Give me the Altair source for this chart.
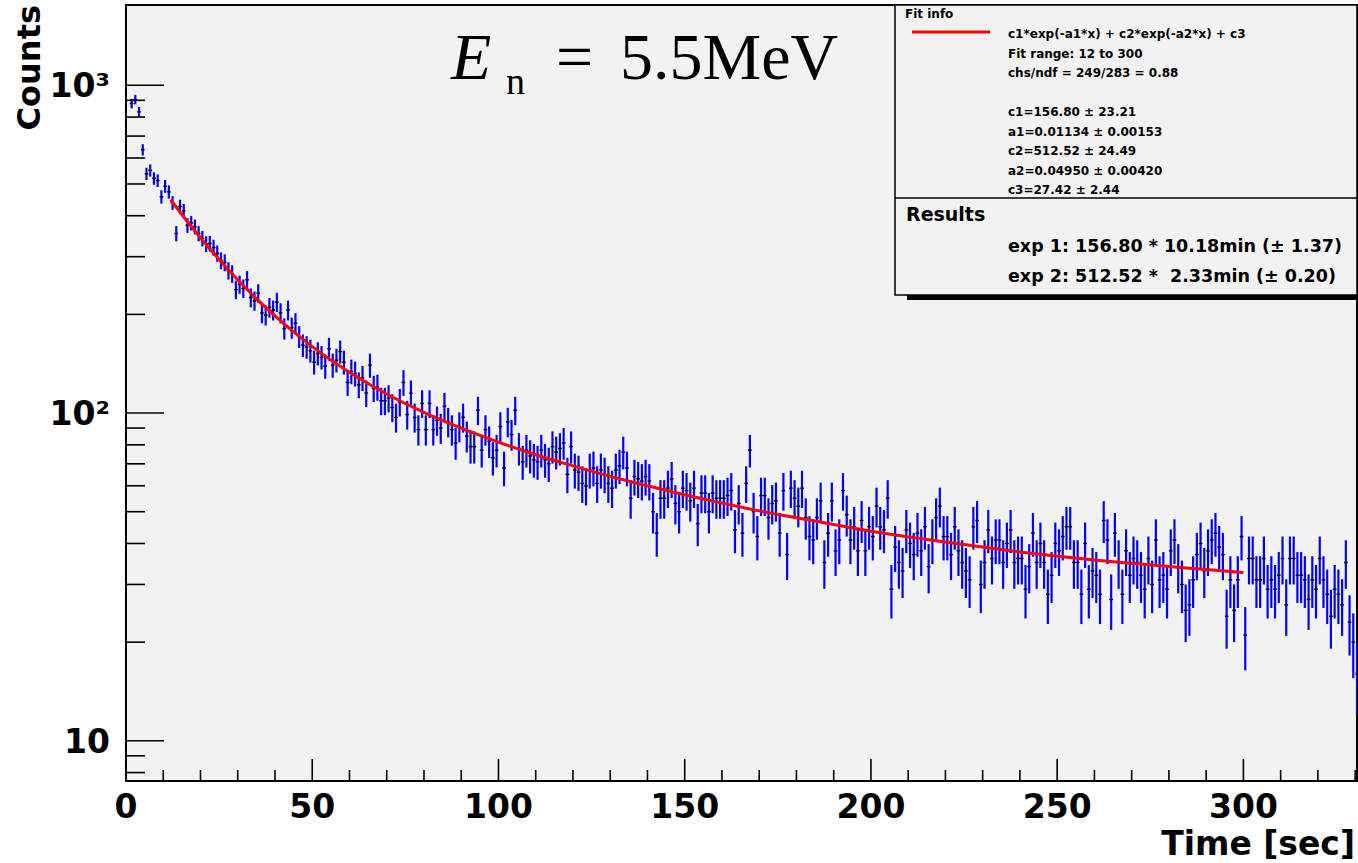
import altair as alt
import pandas as pd
import numpy as np

# ---------------- data ----------------
counts_a = [880, 905, 830, 636, 537, 550, 520, 512, 457, 492,
            473, 438, 353, 427, 414, 374, 380, 370, 353, 341,
            328, 329, 320, 307, 292, 288, 272, 266, 238, 247,
            240, 255, 225, 220, 232, 202, 199, 210, 206, 218,
            202, 181, 206, 182, 188, 171, 161, 159, 155, 143,
            152, 148, 139, 157, 140, 145]
counts_b = [154, 143, 124, 134, 132, 122, 128, 115, 140, 119,
            120, 109, 109, 111, 104, 97, 108, 124, 99, 115,
            97, 89, 107, 89, 107, 89, 95, 90, 105, 94,
            89, 81, 91, 97, 85, 79, 79, 102, 77, 89,
            82, 73, 77, 91, 68, 94, 86, 102, 78, 71,
            77, 74, 72]
counts_c = [71, 77, 72, 70, 79, 76, 78, 81, 65, 79,
            67, 66, 61, 60, 67, 68, 61, 67, 65, 61,
            59, 67, 69, 76, 68, 55, 64, 63, 62, 64,
            62, 50, 43, 55, 55, 59, 63, 53, 50, 59,
            58, 54, 59, 46, 57, 57, 50, 57, 55, 55,
            55, 56, 58, 44, 53]
counts_d = [43, 61, 77, 50, 42, 56, 56, 48, 53, 54,
            43, 58, 37, 59, 55, 52, 59, 48, 42, 41,
            48, 54, 35, 43, 54, 38, 41, 58, 49, 41,
            45, 38, 47, 38, 45, 42, 52, 45, 44, 55,
            29, 39, 35, 33, 44, 40, 37, 43, 38, 45,
            34, 41, 48, 52, 42]
counts_e = [42, 37, 45, 38, 35, 33, 31, 45, 47, 30,
            35, 44, 36, 41, 41, 35, 40, 44, 35, 36,
            36, 29, 34, 43, 35, 40, 35, 28, 32, 40,
            38, 42, 45, 45, 35, 35, 28, 40, 29, 33,
            32, 28, 47, 41, 27, 43, 35, 28, 38, 32,
            36, 35, 32, 29]
counts_f = [36, 30, 41, 31, 32, 29, 38, 41, 34, 30,
            25, 26, 31, 37, 40, 33, 38, 41, 43, 39,
            37, 24, 31, 25, 31, 42, 21, 36, 36, 31,
            31, 36, 29, 31, 29, 32, 36, 26, 36, 36,
            32, 32, 31, 27, 31, 29, 36, 31, 28, 24,
            29, 28, 26, 35, 23, 20, 16]
first_bin_center = 1.5
bin_width = 1.0

fit_t = [12, 15, 20, 25, 30, 35, 40, 45, 50, 60, 70, 80, 90, 100, 110, 120,
         130, 140, 150, 160, 170, 180, 190, 200, 210, 220, 230, 240, 250, 260,
         270, 280, 290, 300]
fit_y = [447.2, 403.6, 342.8, 294.2, 255.1, 223.5, 197.8, 176.8, 159.5, 133.1,
         114.3, 100.5, 89.9, 81.5, 74.6, 69.0, 64.1, 60.0, 56.3, 53.1, 50.3,
         47.9, 45.7, 43.6, 41.9, 40.4, 39.0, 37.7, 36.6, 35.6, 34.8, 34.0,
         33.3, 32.6]

x_major = [0, 50, 100, 150, 200, 250, 300]
x_major_labels = ["0", "50", "100", "150", "200", "250", "300"]
x_minor = [10, 20, 30, 40, 60, 70, 80, 90, 110, 120, 130, 140, 160, 170, 180,
           190, 210, 220, 230, 240, 260, 270, 280, 290, 310, 320, 330]
y_major = [10, 100, 1000]
y_major_labels = ["10", "10²", "10³"]
y_minor = [8, 9, 20, 30, 40, 50, 60, 70, 80, 90,
           200, 300, 400, 500, 600, 700, 800, 900]

fit_info_lines = ["c1*exp(-a1*x) + c2*exp(-a2*x) + c3",
                  "Fit range: 12 to 300",
                  "chs/ndf = 249/283 = 0.88",
                  "",
                  "c1=156.80 ± 23.21",
                  "a1=0.01134 ± 0.00153",
                  "c2=512.52 ± 24.49",
                  "a2=0.04950 ± 0.00420",
                  "c3=27.42 ± 2.44"]
results_lines = ["exp 1: 156.80 * 10.18min (± 1.37)",
                 "exp 2: 512.52 *\u00a0\u00a02.33min (± 0.20)"]

# ---------------- layout ----------------
W, H = 1231, 776
XDOM = [0, 330.5]
YDOM = [7.54, 1758]
FONT = "DejaVu Sans"
BLUE = "#0000ff"
RED = "#ff0000"

counts = counts_a + counts_b + counts_c + counts_d + counts_e + counts_f
times = [first_bin_center + i * bin_width for i in range(len(counts))]
df = pd.DataFrame({"t": times, "n": counts})
df["lo"] = df["n"] - np.sqrt(df["n"])
df["hi"] = df["n"] + np.sqrt(df["n"])
df["t0"] = df["t"] - bin_width / 2
df["t1"] = df["t"] + bin_width / 2

fit_df = pd.DataFrame({"t": fit_t, "f": fit_y})

xs = alt.Scale(domain=XDOM, nice=False, zero=False)
ys = alt.Scale(type="log", domain=YDOM, nice=False)

errbars = alt.Chart(df).mark_rule(color=BLUE, strokeWidth=2.2, clip=True).encode(
    x=alt.X("t:Q", scale=xs, axis=None),
    y=alt.Y("lo:Q", scale=ys, axis=None),
    y2="hi:Q",
)
markers = alt.Chart(df).mark_rule(color="black", strokeWidth=1.4, clip=True).encode(
    x=alt.X("t0:Q", scale=xs, axis=None), x2="t1:Q",
    y=alt.Y("n:Q", scale=ys, axis=None),
)
fit_line = alt.Chart(fit_df).mark_line(color=RED, strokeWidth=3, interpolate="monotone").encode(
    x=alt.X("t:Q", scale=xs, axis=None),
    y=alt.Y("f:Q", scale=ys, axis=None),
)

def yticks(vals, length):
    return alt.Chart(pd.DataFrame({"v": vals})).mark_rule(color="black", strokeWidth=1.6).encode(
        y=alt.Y("v:Q", scale=ys, axis=None), x=alt.value(0), x2=alt.value(length))

def xticks(vals, length):
    return alt.Chart(pd.DataFrame({"v": vals})).mark_rule(color="black", strokeWidth=1.6).encode(
        x=alt.X("v:Q", scale=xs, axis=None), y=alt.value(H), y2=alt.value(H - length))

x_tick_labels = alt.Chart(pd.DataFrame({"v": x_major, "s": x_major_labels})).mark_text(
    align="center", baseline="alphabetic", font=FONT, fontWeight="bold", fontSize=33,
    color="black").encode(
    x=alt.X("v:Q", scale=xs, axis=None), y=alt.value(813), text="s:N")
y_tick_labels = alt.Chart(pd.DataFrame({"v": y_major, "s": y_major_labels})).mark_text(
    align="right", baseline="alphabetic", font=FONT, fontWeight="bold", fontSize=33,
    color="black", dy=12).encode(
    y=alt.Y("v:Q", scale=ys, axis=None), x=alt.value(-16), text="s:N")

one = pd.DataFrame({"k": [0]})

def text(s, x, y, size, align="left", baseline="middle", font=FONT, weight="bold",
         style="normal", color="black", angle=0):
    return alt.Chart(pd.DataFrame({"s": [s]})).mark_text(
        align=align, baseline=baseline, font=font, fontSize=size, fontWeight=weight,
        fontStyle=style, color=color, angle=angle).encode(
        x=alt.value(x), y=alt.value(y), text="s:N")

# legend box (ROOT stats pave)
LX0, LX1, LY0, LY1, LDIV = 769, W, 0, 290, 193
shadow = alt.Chart(one).mark_rect(fill="black").encode(
    x=alt.value(LX0 + 12), x2=alt.value(LX1 + 4), y=alt.value(LY1), y2=alt.value(LY1 + 5))
box = alt.Chart(one).mark_rect(fill="#f2f2f2", stroke="black", strokeWidth=1.5).encode(
    x=alt.value(LX0), x2=alt.value(LX1), y=alt.value(LY0), y2=alt.value(LY1))
divider = alt.Chart(one).mark_rule(color="black", strokeWidth=1.5).encode(
    x=alt.value(LX0), x2=alt.value(LX1), y=alt.value(LDIV))
leg_line = alt.Chart(one).mark_rule(color=RED, strokeWidth=3).encode(
    x=alt.value(786), x2=alt.value(864), y=alt.value(27))

legend_layers = [shadow, box, divider, leg_line,
                 text("Fit info", 779, 9, 12)]
for i, s in enumerate(fit_info_lines):
    if s:
        legend_layers.append(text(s, 882, 29 + i * 19.5, 12))
legend_layers.append(text("Results", 780, 210, 19))
for i, s in enumerate(results_lines):
    legend_layers.append(text(s, 882, 242 + i * 30, 17.5))

annot = [
    text("E", 325, 74, 66, baseline="alphabetic", font="Liberation Serif", weight="normal", style="italic"),
    text("n", 380, 89, 38, baseline="alphabetic", font="Liberation Serif", weight="normal"),
    text("=", 430, 74, 66, baseline="alphabetic", font="Liberation Serif", weight="normal"),
    text("5.5MeV", 494, 74, 66, baseline="alphabetic", font="Liberation Serif", weight="normal"),
    text("Counts", -96, 0, 32, align="right", angle=270),
    text("Time [sec]", W - 2, 850, 33, align="right", baseline="alphabetic"),
]

chart = alt.layer(
    errbars, markers, fit_line,
    yticks(y_major, 38), yticks(y_minor, 19),
    xticks(x_major, 22), xticks(x_minor, 11),
    x_tick_labels, y_tick_labels,
    *legend_layers, *annot,
).properties(
    width=W, height=H,
    padding={"left": 126, "top": 5, "right": 1, "bottom": 82},
    autosize=alt.AutoSizeParams(type="none"),
    background="white",
).configure_view(
    fill="#f2f2f2", stroke="black", strokeWidth=2,
)

chart.save("out.html", embed_options={"renderer": "svg", "actions": False})
